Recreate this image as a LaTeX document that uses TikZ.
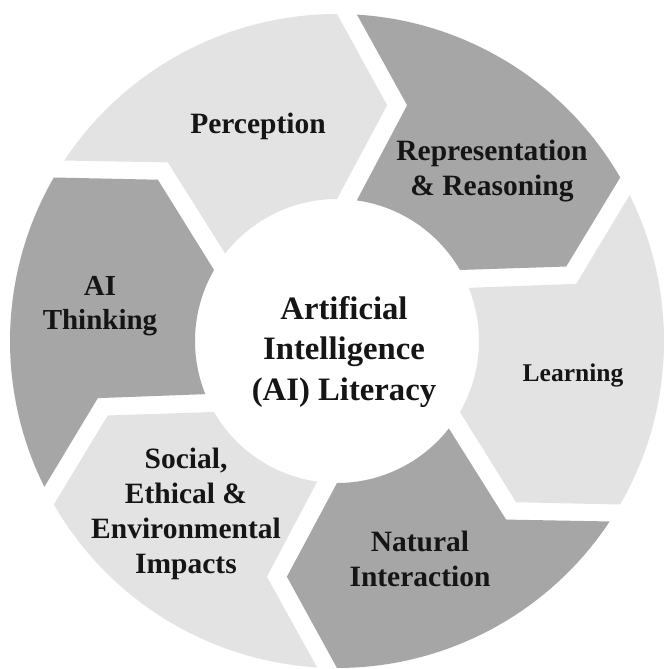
\documentclass[tikz,border=0pt]{standalone}
\usepackage{fontspec}
\newfontfamily\blockfont{Liberation Serif}[UprightFont={* Bold}]
\usetikzlibrary{calc}

\definecolor{segLight}{HTML}{E3E3E3}
\definecolor{segDark}{HTML}{A6A6A6}
\definecolor{labelInk}{HTML}{151515}

% ring geometry (pt)
\newcommand{\Ro}{327}     % outer radius
\newcommand{\Ri}{142}     % inner radius
\newcommand{\Rm}{241}     % radius of arrow tips
\newcommand{\tipoff}{12}  % angular lead of the tip
\newcommand{\gapw}{20}    % white gap between blocks
\newcommand{\dOut}{3.50}  % atan(gap/outer radius)
\newcommand{\dIn}{8.02}   % atan(gap/inner radius)

% one arrow-shaped ring block: #1 leading angle, #2 fill colour
\newcommand{\cycleseg}[2]{%
  \pgfmathsetmacro\trail{#1+60}
  \fill[#2]
    ($(C)+(#1:\Ro pt)$)
    -- ($(C)+(#1-\tipoff:\Rm pt)$)
    -- ($(C)+(#1:\Ri pt)$)
    arc[start angle=#1, end angle=\trail-\dIn, radius=\Ri pt]
    -- ($(C)+(\trail-\tipoff:\Rm pt)+(\trail-90:\gapw pt)$)
    -- ($(C)+(\trail-\dOut:\Ro pt)$)
    arc[start angle=\trail-\dOut, end angle=#1, radius=\Ro pt]
    -- cycle;
}

\begin{document}
\begin{tikzpicture}[x=1pt,y=1pt,
  lbl/.style={font=\blockfont\fontsize{29.5}{35}\selectfont, align=center,
              inner sep=0pt, text=labelInk},
  hub/.style={font=\blockfont\fontsize{32.7}{40.5}\selectfont, align=center,
              inner sep=0pt, text=labelInk}]
  \useasboundingbox (0,0) rectangle (666,669);
  \fill[white] (0,0) rectangle (666,669);
  \coordinate (C) at (337,328);

  % the six blocks, clockwise from the top
  \cycleseg{90}{segLight}    % Perception
  \cycleseg{30}{segDark}     % Representation & Reasoning
  \cycleseg{-30}{segLight}   % Learning
  \cycleseg{-90}{segDark}    % Natural Interaction
  \cycleseg{-150}{segLight}  % Social, Ethical & Environmental Impacts
  \cycleseg{150}{segDark}    % AI Thinking

  % labels
  \node[lbl] (perception) at (258,543) {Perception};
  \node[lbl] (reasoning) at (492,498) {Representation\\\& Reasoning};
  \node[lbl, font=\blockfont\fontsize{25.5}{30}\selectfont] (learning) at (573,294) {Learning};
  \node[lbl] (interaction) at (420,110) {Natural\\Interaction};
  \node[lbl] (impacts) at (186,155) {Social,\\Ethical \&\\Environmental\\Impacts};
  \node[lbl, font=\blockfont\fontsize{29}{34.5}\selectfont] (thinking) at (100,363) {AI\\Thinking};
  \node[hub] (literacy) at (344,317) {Artificial\\Intelligence\\(AI) Literacy};
\end{tikzpicture}
\end{document}
